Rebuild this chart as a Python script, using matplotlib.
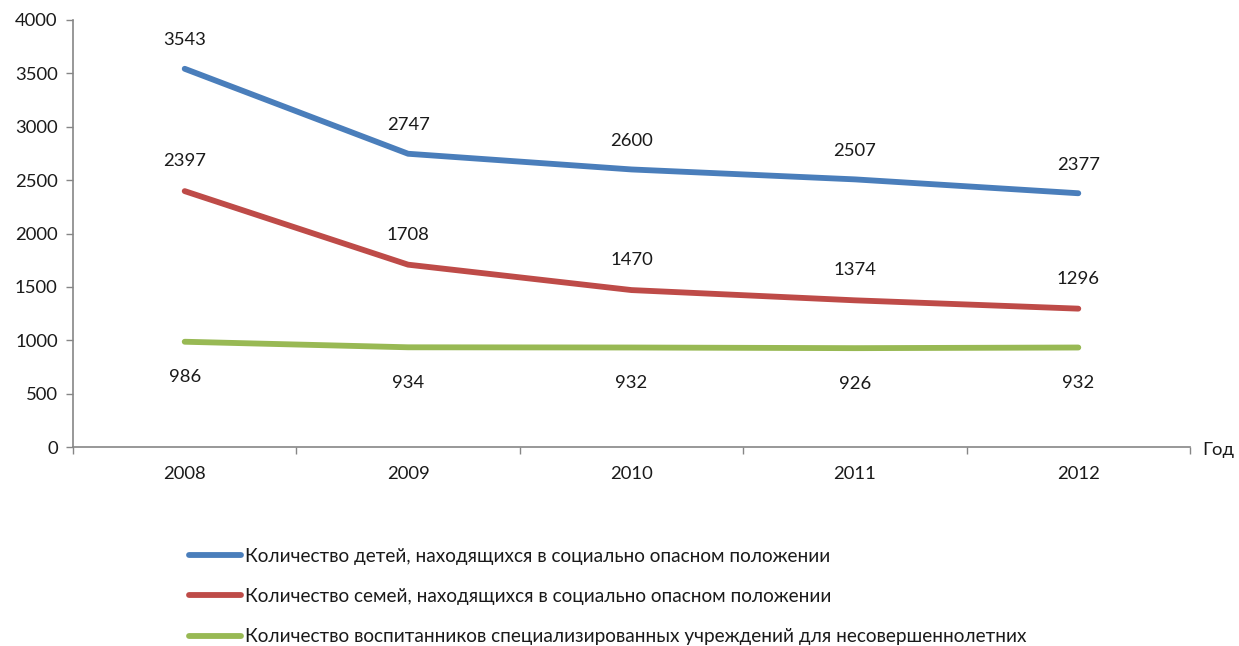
import matplotlib
matplotlib.use("Agg")
import matplotlib.pyplot as plt
import numpy as np

years = ["2008", "2009", "2010", "2011", "2012"]
children = [3543, 2747, 2600, 2507, 2377]
families = [2397, 1708, 1470, 1374, 1296]
pupils = [986, 934, 932, 926, 932]
labels = [
    "Количество детей, находящихся в социально опасном положении",
    "Количество семей, находящихся в социально опасном положении",
    "Количество воспитанников специализированных учреждений для несовершеннолетних",
]
colors = ["#4A7EBB", "#BE4B48", "#98B954"]

plt.rcParams['font.family'] = ['Lato', 'DejaVu Sans']
FS = 13.3

fig = plt.figure(figsize=(12.39, 6.46), dpi=100)
ax = fig.add_axes([73/1239, 1-447/646, (1190-73)/1239, (447-20)/646])

x = np.arange(len(years))
series = [children, families, pupils]
offsets = [(0, 20.5), (0, 21.5), (0, -25.5)]
for vals, c, lab, off in zip(series, colors, labels, offsets):
    ax.plot(x, vals, color=c, lw=4.2, solid_capstyle='round', label=lab)
    for xi, v in zip(x, vals):
        ax.annotate(str(v), (xi, v), xytext=off, textcoords='offset points',
                    ha='center', va='center', fontsize=FS, color='#1a1a1a')

ax.set_xlim(-0.5, 4.5)
ax.set_ylim(0, 4000)
ax.set_yticks(np.arange(0, 4001, 500))
ax.set_xticks(x)
ax.set_xticklabels(years)
ax.set_xticks(np.arange(-0.5, 4.6, 1), minor=True)
ax.tick_params(axis='x', which='major', length=0, pad=14, labelsize=FS, colors='#1a1a1a')
ax.tick_params(axis='x', which='minor', length=5, color='#868686', width=1)
ax.tick_params(axis='y', length=5, color='#868686', width=1, labelsize=FS, pad=6, labelcolor='#1a1a1a')
for s in ['top', 'right']:
    ax.spines[s].set_visible(False)
for s in ['left', 'bottom']:
    ax.spines[s].set_color('#868686')
    ax.spines[s].set_linewidth(1.2)

fig.text(1202/1239, 1-450/646, "Год", fontsize=FS, ha='left', va='center', color='#1a1a1a')

LFS = 13.7
leg = fig.legend(loc='upper left', bbox_to_anchor=(181/1239, 1-540/646), frameon=False,
                 fontsize=LFS, handlelength=2.75, handletextpad=0.2, labelspacing=1.23,
                 borderaxespad=0)
for t in leg.get_texts():
    t.set_color('#1a1a1a')

fig.savefig("out.png", dpi=100)
